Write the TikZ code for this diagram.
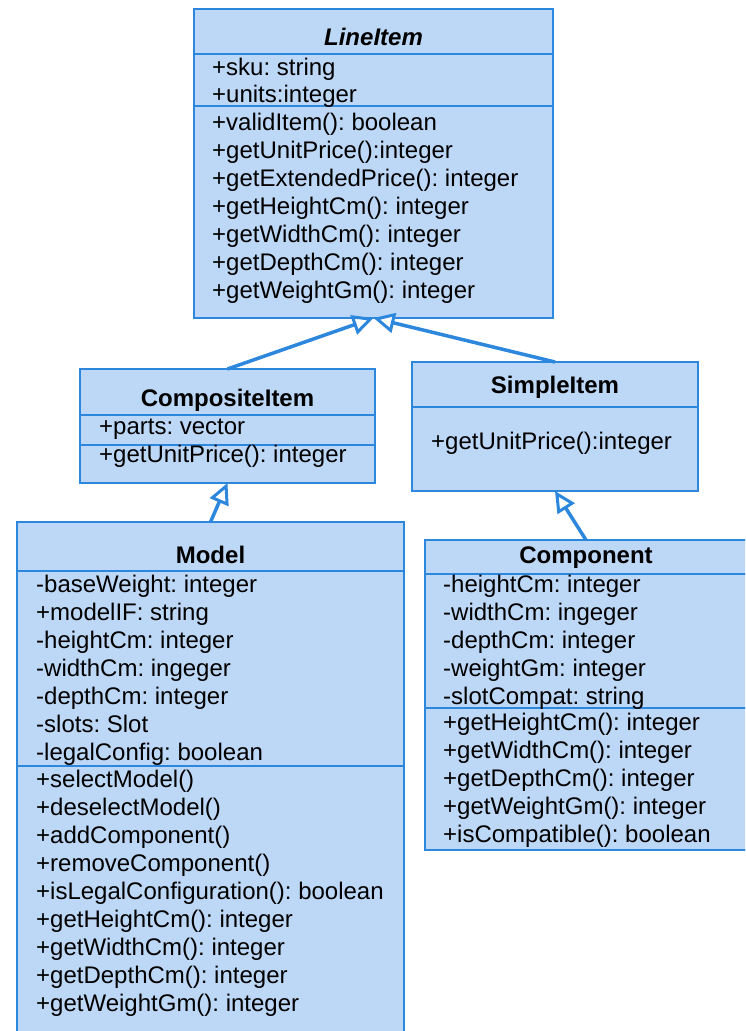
\documentclass[tikz,border=0pt]{standalone}
\usepackage{fontspec}
\setmainfont{Liberation Sans}
\usetikzlibrary{arrows.meta}
\definecolor{classfill}{RGB}{189,215,246}
\definecolor{classline}{RGB}{44,135,221}
\frenchspacing

\begin{document}
\begin{tikzpicture}[x=1pt,y=-1pt,
	class/.style={draw=classline,fill=classfill,line width=1.5pt,anchor=north west,inner sep=0pt,outer sep=0pt},
	sep/.style={draw=classline,line width=1.5pt},
	title/.style={anchor=base,inner sep=0pt,font=\fontsize{24}{28}\selectfont\bfseries},
	member/.style={anchor=base west,inner sep=0pt,font=\fontsize{24}{28}\selectfont},
	inherit/.style={draw=classline,line width=3.5pt,-{Triangle[length=21pt,width=20pt,fill=white,line width=3pt]}}]
		\useasboundingbox (0,0) rectangle (745,1031);
		\clip (0,0) rectangle (745,1031);
		% class boxes
		\node[class,minimum width=359pt,minimum height=309pt] (lineitem) at (194,9) {};
		\node[class,minimum width=295pt,minimum height=114pt] (composite) at (80,369) {};
		\node[class,minimum width=286pt,minimum height=129pt] (simple) at (412,362) {};
		\node[class,minimum width=387pt,minimum height=530pt] (model) at (17,522) {};
		\node[class,minimum width=322pt,minimum height=310pt] (component) at (425,540) {};
		% compartments
		\draw[sep] (lineitem.west |- 0,54) -- (lineitem.east |- 0,54);
		\draw[sep] (lineitem.west |- 0,106) -- (lineitem.east |- 0,106);
		\draw[sep] (composite.west |- 0,415) -- (composite.east |- 0,415);
		\draw[sep] (composite.west |- 0,445) -- (composite.east |- 0,445);
		\draw[sep] (simple.west |- 0,407) -- (simple.east |- 0,407);
		\draw[sep] (model.west |- 0,571) -- (model.east |- 0,571);
		\draw[sep] (model.west |- 0,766) -- (model.east |- 0,766);
		\draw[sep] (component.west |- 0,574) -- (component.east |- 0,574);
		\draw[sep] (component.west |- 0,708) -- (component.east |- 0,708);
		% LineItem
		\node[title,font=\fontsize{24}{28}\selectfont\bfseries\itshape] (lineitem-name) at (lineitem.north |- 0,45) {LineItem};
		\foreach \t [count=\i] in {+sku: string,+units:integer}
			\node[member] (lineitem-a\i) at (212,{48+27*\i}) {\t};
		\foreach \t [count=\i] in {+validItem(): boolean,+getUnitPrice():integer,+getExtendedPrice(): integer,+getHeightCm(): integer,+getWidthCm(): integer,+getDepthCm(): integer,+getWeightGm(): integer}
			\node[member] (lineitem-m\i) at (212,{102+28*\i}) {\t};
		% CompositeItem
		\node[title] (composite-name) at (composite.north |- 0,406) {CompositeItem};
		\node[member] (composite-a1) at (99,434) {+parts: vector};
		\node[member] (composite-m1) at (99,462) {+getUnitPrice(): integer};
		% SimpleItem
		\node[title] (simple-name) at (simple.north |- 0,393) {SimpleItem};
		\node[member] (simple-m1) at (431,449) {+getUnitPrice():integer};
		% Model
		\node[title] (model-name) at (model.north |- 0,563) {Model};
		\foreach \t [count=\i] in {-baseWeight: integer,+modelIF: string,-heightCm: integer,-widthCm: ingeger,-depthCm: integer,-slots: Slot,-legalConfig: boolean}
			\node[member] (model-a\i) at (36,{564+28*\i}) {\t};
		\foreach \t [count=\i] in {+selectModel(),+deselectModel(),+addComponent(),+removeComponent(),+isLegalConfiguration(): boolean,+getHeightCm(): integer,+getWidthCm(): integer,+getDepthCm(): integer,+getWeightGm(): integer}
			\node[member] (model-m\i) at (36,{759+28*\i}) {\t};
		% Component
		\node[title] (component-name) at (component.north |- 0,563) {Component};
		\foreach \t [count=\i] in {-heightCm: integer,-widthCm: ingeger,-depthCm: integer,-weightGm: integer,-slotCompat: string}
			\node[member] (component-a\i) at (443,{564+28*\i}) {\t};
		\foreach \t [count=\i] in {+getHeightCm(): integer,+getWidthCm(): integer,+getDepthCm(): integer,+getWeightGm(): integer,+isCompatible(): boolean}
			\node[member] (component-m\i) at (443,{702+28*\i}) {\t};
		% generalisations
		\draw[inherit] (composite.north) to (lineitem.south);
		\draw[inherit] (simple.north) to (lineitem.south);
		\draw[inherit] (model.north) to (composite.south);
		\draw[inherit] (component.north) to (simple.south);
	\end{tikzpicture}
\end{document}
